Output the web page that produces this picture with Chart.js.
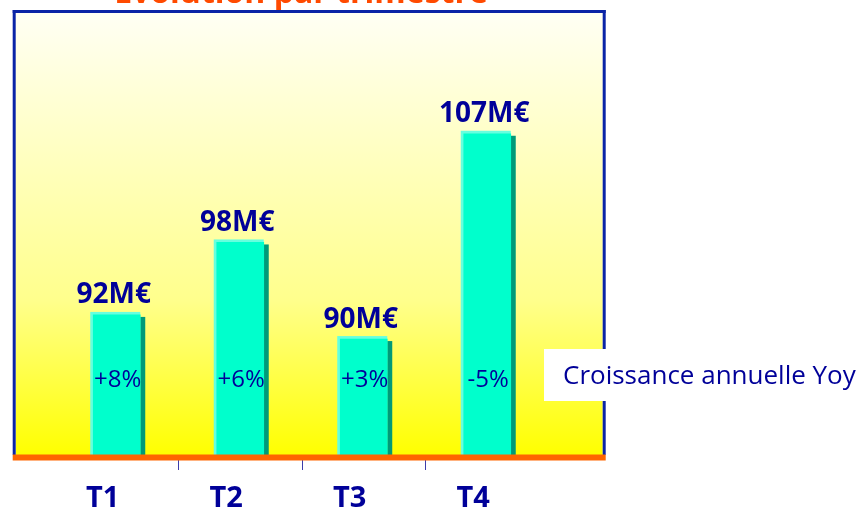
<!DOCTYPE html>
<html>
<head>
<meta charset="utf-8">
<script src="https://cdn.jsdelivr.net/npm/chart.js@4.4.1/dist/chart.umd.min.js"></script>
<style>
  html, body { margin: 0; padding: 0; background: #ffffff; }
  #wrap { position: relative; width: 857px; height: 509px; overflow: hidden; }
  canvas { display: block; }
</style>
</head>
<body>
<div id="wrap"><canvas id="chart" width="857" height="509"></canvas></div>
<script>
// Quarterly revenue (M€) and year-over-year growth
const quarters = ['T1', 'T2', 'T3', 'T4'];
const revenue = [92, 98, 90, 107];
const growth = ['+8%', '+6%', '+3%', '-5%'];
const growthCaption = 'Croissance annuelle Yoy';
const chartTitle = 'Evolution par trimestre';

const NAVY = '#000099';
const FONT = '"Open Sans", "DejaVu Sans", sans-serif';
const AXIS_MIN = 80.4;
const AXIS_MAX = 117;

// Plot frame, background, bevelled bars, labels
const decor = {
  id: 'decor',
  beforeDraw(chart) {
    const { ctx, chartArea } = chart;
    const left = 12.7, right = 605.7, top = 10, bottom = chartArea.bottom;
    ctx.save();
    // title (only its lower edge falls inside the canvas)
    ctx.fillStyle = '#FF4A00';
    ctx.font = `bold 32px ${FONT}`;
    ctx.textAlign = 'center';
    ctx.textBaseline = 'alphabetic';
    ctx.fillText(chartTitle, 301, 3);
    // yellow gradient
    const g = ctx.createLinearGradient(0, top + 3, 0, bottom);
    g.addColorStop(0, '#FFFFF4');
    g.addColorStop(0.4, '#FFFFB4');
    g.addColorStop(0.65, '#FFFF8C');
    g.addColorStop(1, '#FFFF00');
    ctx.fillStyle = g;
    ctx.fillRect(left + 3, top + 3, right - left - 6, bottom - top - 3);
    // blue border on left, top, right
    ctx.fillStyle = '#0A24A6';
    ctx.fillRect(left, top, 3, bottom - top);
    ctx.fillRect(left, top, right - left, 3);
    ctx.fillRect(right - 3, top, 3, bottom - top);
    ctx.restore();
  },
  beforeDatasetsDraw(chart) {
    const { ctx } = chart;
    const meta = chart.getDatasetMeta(0);
    ctx.save();
    meta.data.forEach(bar => {
      const l = bar.x - bar.width / 2, r = bar.x + bar.width / 2;
      // light bevel on left and top
      ctx.fillStyle = '#66FFDF';
      ctx.fillRect(l - 3, bar.y - 3, r - l + 3, bar.base - bar.y + 3);
      // dark shadow on the right
      ctx.fillStyle = '#009A78';
      ctx.fillRect(r, bar.y + 2, 5, bar.base - bar.y - 2);
    });
    ctx.restore();
  },
  afterDatasetsDraw(chart) {
    const { ctx, chartArea } = chart;
    const meta = chart.getDatasetMeta(0);
    ctx.save();
    // orange base line
    ctx.fillStyle = '#FF6600';
    ctx.fillRect(12.7, chartArea.bottom - 0.5, 593, 6);
    // value labels above the bars
    ctx.fillStyle = NAVY;
    ctx.textAlign = 'center';
    ctx.textBaseline = 'alphabetic';
    ctx.font = `bold 28px ${FONT}`;
    meta.data.forEach((bar, i) => {
      ctx.fillText(revenue[i] + 'M€', bar.x - 3, bar.y - 11.5);
    });
    // growth labels inside the bars
    ctx.font = `24px ${FONT}`;
    meta.data.forEach((bar, i) => {
      ctx.fillText(growth[i], bar.x + 1, 387);
    });
    ctx.restore();
  },
  afterDraw(chart) {
    const { ctx } = chart;
    ctx.save();
    ctx.fillStyle = '#FFFFFF';
    ctx.fillRect(544, 349, 313, 52);
    ctx.fillStyle = NAVY;
    ctx.font = `26px ${FONT}`;
    ctx.textAlign = 'left';
    ctx.textBaseline = 'alphabetic';
    ctx.fillText(growthCaption, 563, 384);
    ctx.restore();
  }
};

new Chart(document.getElementById('chart'), {
  type: 'bar',
  data: {
    labels: quarters,
    datasets: [{
      data: revenue,
      base: AXIS_MIN,
      backgroundColor: '#00FFCC',
      borderWidth: 0,
      barThickness: 47
    }]
  },
  options: {
    responsive: false,
    animation: false,
    devicePixelRatio: 1,
    layout: { padding: { left: 55, right: 308, top: 13, bottom: 0 } },
    plugins: { legend: { display: false }, tooltip: { enabled: false }, title: { display: false } },
    scales: {
      x: {
        offset: true,
        border: { display: false },
        grid: {
          display: true,
          offset: true,
          drawOnChartArea: false,
          drawTicks: true,
          tickLength: 15,
          lineWidth: 1,
          // only the separators between quarters, not the outer edges
          color: c => (c.index >= 1 && c.index < quarters.length) ? '#3C3CAA' : 'rgba(0,0,0,0)'
        },
        ticks: {
          color: NAVY,
          font: { family: FONT, size: 29, weight: 'bold' },
          labelOffset: -14,
          padding: 11,
          maxRotation: 0
        },
        afterFit(scale) { scale.height = 54; }
      },
      y: {
        display: false,
        min: AXIS_MIN,
        max: AXIS_MAX,
        grid: { display: false }
      }
    }
  },
  plugins: [decor]
});
</script>
</body>
</html>
